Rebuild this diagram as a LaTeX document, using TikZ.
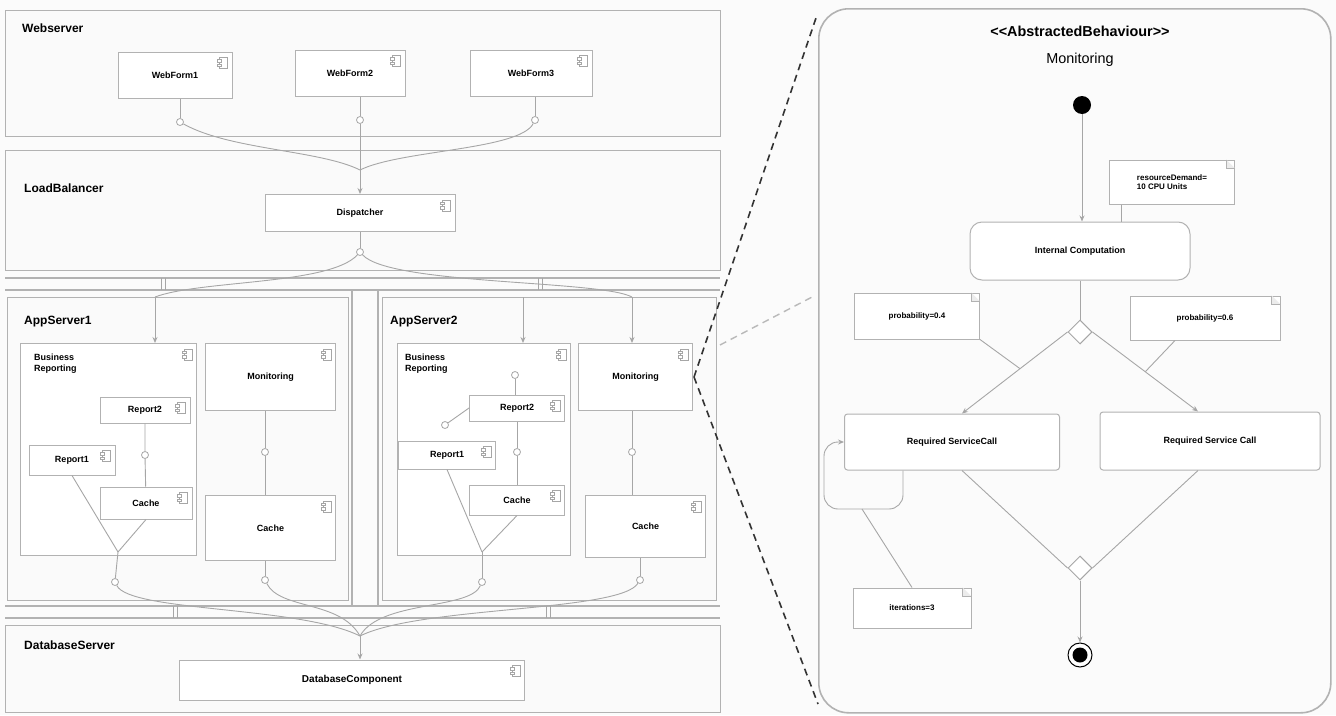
\documentclass[tikz,border=0pt]{standalone}
\usepackage{fontspec}
\setmainfont{Liberation Sans}
\usetikzlibrary{shapes.geometric,arrows.meta,calc}
\begin{document}
\begin{tikzpicture}[x=1pt,y=-1pt,
  cont/.style={draw=gray!60,line width=1.4pt,fill=gray!4,inner sep=0pt},
  comp/.style={draw=gray!60,line width=1pt,fill=white,font=\bfseries\small,inner sep=2pt},
  lbl/.style={anchor=west,font=\bfseries\large,inner sep=0pt},
  conn/.style={draw=gray!70,line width=0.9pt},
  act/.style={draw=gray!60,line width=1pt,fill=white,rounded corners=3pt,font=\bfseries\small},
  notebox/.style={draw=gray!60,line width=1pt,fill=white,font=\bfseries\footnotesize,align=left,inner sep=3pt},
  dia/.style={diamond,draw=gray!70,line width=1pt,fill=white,minimum size=24pt,inner sep=0pt},
  arr/.style={conn,-{Stealth[length=6pt,width=5pt]}},
  lolly/.style={circle,draw=gray!70,line width=0.8pt,fill=white,minimum size=7pt,inner sep=0pt}
]
\newcommand\cicon[1]{%
  \draw[gray!70,line width=0.7pt,fill=white] ([xshift=-13pt,yshift=-6pt]#1.north east) rectangle ++(8pt,-11pt);
  \draw[gray!70,line width=0.6pt,fill=white] ([xshift=-15pt,yshift=-8pt]#1.north east) rectangle ++(4pt,-2.5pt);
  \draw[gray!70,line width=0.6pt,fill=white] ([xshift=-15pt,yshift=-12.5pt]#1.north east) rectangle ++(4pt,-2.5pt);}
\newcommand\nfold[1]{%
  \fill[gray!15] ([xshift=-9pt]#1.north east) -- ([yshift=-9pt]#1.north east) -- ([xshift=-9pt,yshift=-9pt]#1.north east) -- cycle;
  \draw[gray!60,line width=0.8pt] ([xshift=-9pt]#1.north east) -- ([xshift=-9pt,yshift=-9pt]#1.north east) -- ([yshift=-9pt]#1.north east);}
\useasboundingbox (0,0) rectangle (1336,715);
\fill[gray!3] (0,0) rectangle (1336,715);

% ---------- containers ----------
\node[cont,anchor=north west,minimum width=715pt,minimum height=126pt] (web) at (5,10) {};
\node[lbl] (webl) at (22,28) {Webserver};
\node[cont,anchor=north west,minimum width=715pt,minimum height=120pt] (lb) at (5,150) {};
\node[lbl] (lbl) at (24,188) {LoadBalancer};
\node[cont,anchor=north west,minimum width=341pt,minimum height=303pt] (as1) at (7,297) {};
\node[lbl] (as1l) at (24,322) {AppServer1};
\node[cont,anchor=north west,minimum width=334pt,minimum height=303pt] (as2) at (382,297) {};
\node[lbl] (as2l) at (390,322) {AppServer2};
\node[cont,anchor=north west,minimum width=715pt,minimum height=87pt] (dbs) at (5,625) {};
\node[lbl] (dbsl) at (24,645) {DatabaseServer};

% buses
\coordinate (b1a) at (5,278); \coordinate (b1b) at (720,278);
\coordinate (b1c) at (5,290); \coordinate (b1d) at (720,290);
\draw[gray!60,line width=1.2pt] (b1a) -- (b1b) (b1c) -- (b1d);
\coordinate (b2a) at (5,606); \coordinate (b2b) at (720,606);
\coordinate (b2c) at (5,618); \coordinate (b2d) at (720,618);
\draw[gray!60,line width=1.2pt] (b2a) -- (b2b) (b2c) -- (b2d);
\foreach \x in {161,165,538,542}{\draw[gray!70,line width=0.8pt] (\x,278) -- (\x,290);}
\foreach \x in {173,177,546,550}{\draw[gray!70,line width=0.8pt] (\x,606) -- (\x,618);}
\draw[gray!60,line width=1.4pt] (352,290) -- (352,606) (378,290) -- (378,606);

% ---------- components ----------
\node[comp,minimum width=114pt,minimum height=46pt] (wf1) at (175,75) {WebForm1\hspace{10pt}};
\node[comp,minimum width=110pt,minimum height=46pt] (wf2) at (350,73) {WebForm2\hspace{10pt}};
\node[comp,minimum width=122pt,minimum height=46pt] (wf3) at (531,73) {WebForm3\hspace{10pt}};
\node[comp,minimum width=190pt,minimum height=37pt] (disp) at (360,213) {Dispatcher\hspace{10pt}};
\foreach \n in {wf1,wf2,wf3,disp}{\cicon{\n}}

% AppServer1
\node[comp,anchor=north west,minimum width=176pt,minimum height=212pt] (br1) at (20,343) {};
\node[anchor=north west,font=\bfseries\small,align=left,inner sep=0pt] (br1l) at (34,354) {Business\\Reporting};
\node[comp,minimum width=90pt,minimum height=26pt] (r21) at (145,410) {Report2\hspace{8pt}};
\node[comp,minimum width=86pt,minimum height=30pt] (r11) at (72,460) {Report1\hspace{8pt}};
\node[comp,minimum width=92pt,minimum height=32pt] (c11) at (146,503) {Cache\hspace{8pt}};
\node[comp,anchor=north west,minimum width=130pt,minimum height=67pt] (m1) at (205,343) {Monitoring};
\node[comp,anchor=north west,minimum width=130pt,minimum height=65pt] (c12) at (205,495) {Cache};
\foreach \n in {br1,r21,r11,c11,m1,c12}{\cicon{\n}}

% AppServer2
\node[comp,anchor=north west,minimum width=173pt,minimum height=212pt] (br2) at (397,343) {};
\node[anchor=north west,font=\bfseries\small,align=left,inner sep=0pt] (br2l) at (405,354) {Business\\Reporting};
\node[comp,minimum width=95pt,minimum height=26pt] (r22) at (517,408) {Report2\hspace{8pt}};
\node[comp,minimum width=97pt,minimum height=28pt] (r12) at (447,455) {Report1\hspace{8pt}};
\node[comp,minimum width=95pt,minimum height=30pt] (c21) at (517,500) {Cache\hspace{8pt}};
\node[comp,anchor=north west,minimum width=114pt,minimum height=67pt] (m2) at (578,343) {Monitoring};
\node[comp,anchor=north west,minimum width=120pt,minimum height=62pt] (c22) at (585,495) {Cache};
\foreach \n in {br2,r22,r12,c21,m2,c22}{\cicon{\n}}

\node[comp,minimum width=345pt,minimum height=40pt,font=\bfseries] (db) at (352,680) {DatabaseComponent\hspace{20pt}};
\cicon{db}

% ---------- connectors (left) ----------
\node[lolly] (l1) at (180,122) {};
\node[lolly] (l2) at (360,120) {};
\node[lolly] (l3) at (535,120) {};
\coordinate (jw) at (360,170);
\draw[conn] (wf1.south -| l1) -- (l1);
\draw[conn] (wf2.south -| l2) -- (l2);
\draw[conn] (wf3.south -| l3) -- (l3);
\draw[conn] (l1) .. controls (230,150) and (320,150) .. (jw);
\draw[conn] (l3) .. controls (520,150) and (400,150) .. (jw);
\draw[conn] (l2) -- (jw);
\draw[arr] (jw) -- (disp.north);

\node[lolly] (ld) at (360,252) {};
\draw[conn] (disp.south) -- (ld);
\coordinate (ja1) at (155,297);
\coordinate (ja2) at (632,297);
\draw[conn] (ld) .. controls (330,285) and (200,280) .. (ja1);
\draw[conn] (ld) .. controls (390,285) and (600,280) .. (ja2);
\draw[arr] (ja1) -- (br1.north -| ja1);
\draw[arr] (ja2) -- (m2.north -| ja2);
\draw[arr] (523,297) -- (br2.north -| 523,0);

% inside AppServer1
\node[lolly] (la1) at (145,455) {};
\draw[conn] (r21) -- (la1) -- (c11);
\node[lolly] (la2) at (265,452) {};
\draw[conn] (m1.south -| la2) -- (la2) -- (c12.north -| la2);
\coordinate (v1) at (118,552);
\draw[conn] (r11.south) -- (v1);
\draw[conn] (c11.south) -- (v1);
\node[lolly] (la3) at (115,582) {};
\draw[conn] (v1) -- (la3);
\node[lolly] (la4) at (265,580) {};
\draw[conn] (c12.south -| la4) -- (la4);

% inside AppServer2
\node[lolly] (lb1) at (517,452) {};
\draw[conn] (r22) -- (lb1) -- (c21);
\node[lolly] (lb2) at (632,452) {};
\draw[conn] (m2.south -| lb2) -- (lb2) -- (c22.north -| lb2);
\node[lolly] (lb5) at (445,425) {};
\draw[conn] (r22.west) -- (lb5);
\node[lolly] (lb6) at (515,375) {};
\draw[conn] (r22.north -| lb6) -- (lb6);
\coordinate (v2) at (482,552);
\draw[conn] (r12.south) -- (v2);
\draw[conn] (c21.south) -- (v2);
\node[lolly] (lb3) at (482,582) {};
\draw[conn] (v2) -- (lb3);
\node[lolly] (lb4) at (640,580) {};
\draw[conn] (c22.south -| lb4) -- (lb4);

% to database
\coordinate (jd) at (360,636);
\draw[conn] (la4) .. controls (280,610) and (340,600) .. (jd);
\draw[conn] (lb3) .. controls (470,610) and (380,600) .. (jd);
\draw[conn] (la3) .. controls (130,612) and (300,606) .. (jd);
\draw[conn] (lb4) .. controls (620,612) and (420,606) .. (jd);
\draw[arr] (jd) -- (db.north -| jd);

% ---------- right: abstracted behaviour ----------
\node[draw=gray!60,line width=1.6pt,fill=gray!3,rounded corners=30pt,anchor=north west,minimum width=512pt,minimum height=704pt] (ab) at (818,8) {};
\node[font=\bfseries\Large] (abt) at (1080,31) {{<}{<}AbstractedBehaviour{>}{>}};
\node[font=\Large] (abn) at (1080,60) {Monitoring};
\node[circle,fill=black,minimum size=18pt,inner sep=0pt] (start) at (1082,105) {};
\node[act,rounded corners=12pt,minimum width=220pt,minimum height=58pt] (ic) at (1080,251) {Internal Computation};
\node[notebox,minimum width=125pt,minimum height=44pt] (n1) at (1172,182) {resourceDemand=\\10 CPU Units};
\nfold{n1}
\node[dia] (dec) at (1080,332) {};
\node[notebox,minimum width=125pt,minimum height=46pt] (n2) at (917,316) {probability=0.4};
\nfold{n2}
\node[notebox,minimum width=150pt,minimum height=44pt] (n3) at (1205,318) {probability=0.6};
\nfold{n3}
\node[act,minimum width=215pt,minimum height=56pt] (rs1) at (952,442) {Required ServiceCall};
\node[act,minimum width=220pt,minimum height=58pt] (rs2) at (1210,441) {Required Service Call};
\node[dia] (mrg) at (1080,568) {};
\node[circle,draw=black,line width=1pt,fill=white,minimum size=24pt,inner sep=0pt] (fin) at (1080,655) {};
\node[circle,fill=black,minimum size=15pt,inner sep=0pt] (fini) at (fin) {};
\node[notebox,minimum width=118pt,minimum height=40pt] (n4) at (912,608) {iterations=3};
\nfold{n4}

\draw[arr] (start) -- (ic.north -| start);
\draw[conn] ([xshift=12pt]n1.south west) -- ([xshift=12pt]n1.south west |- ic.north);
\draw[conn] (ic.south -| dec) -- (dec.north);
\draw[arr] (dec.west) -- (rs1.north -| 962,0);
\draw[arr] (dec.east) -- (rs2.north -| 1198,0);
\draw[conn] (rs1.south -| 962,0) -- (mrg.west);
\draw[conn] (rs2.south -| 1198,0) -- (mrg.east);
\draw[arr] (mrg.south) -- (fin.north);
\draw[conn] (n2.south east) -- ($(dec.west)!0.45!(rs1.north -| 962,0)$);
\draw[conn] ([xshift=-30pt]n3.south) -- ($(dec.east)!0.5!(rs2.north -| 1198,0)$);
\coordinate (lp1) at (903,509);
\coordinate (lp2) at (824,509);
\coordinate (lp3) at (824,442);
\draw[arr,rounded corners=14pt] (rs1.south -| lp1) -- (lp1) -- (lp2) -- (lp3) -- (rs1.west);
\draw[conn] (862,509) -- (n4.north);

% dashed zoom lines
\coordinate (zm) at (694,377);
\coordinate (zt) at (816,18);
\coordinate (zb) at (818,704);
\coordinate (zg1) at (720,345);
\coordinate (zg2) at (814,296);
\draw[black!80,line width=1.6pt,dash pattern=on 7pt off 5pt] (zm) -- (zt);
\draw[black!80,line width=1.6pt,dash pattern=on 7pt off 5pt] (zm) -- (zb);
\draw[gray!55,line width=1.4pt,dash pattern=on 7pt off 5pt] (zg1) -- (zg2);
\end{tikzpicture}
\end{document}
